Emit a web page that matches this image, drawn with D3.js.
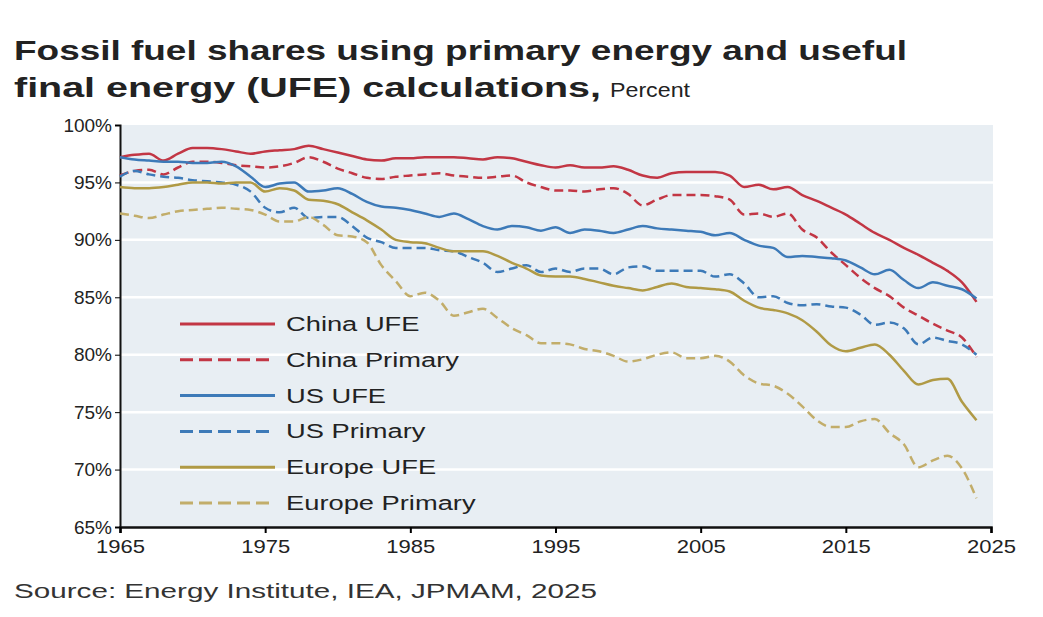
<!DOCTYPE html>
<html><head><meta charset="utf-8">
<script src="https://cdn.jsdelivr.net/npm/d3@7"></script>
<style>body{margin:0;background:#fff;}svg{font-family:"Liberation Sans",Arial,sans-serif;}</style>
</head><body><div id="chart"></div>
<script>
const firstYear = 1965;
const chinaUFE = [97.2,97.4,97.5,96.9,97.5,98.0,98.0,97.9,97.7,97.5,97.7,97.8,97.9,98.2,97.9,97.6,97.3,97.0,96.9,97.1,97.1,97.2,97.2,97.2,97.1,97.0,97.2,97.1,96.8,96.5,96.3,96.5,96.3,96.3,96.4,96.1,95.6,95.4,95.8,95.9,95.9,95.9,95.6,94.6,94.8,94.4,94.6,93.9,93.4,92.8,92.2,91.4,90.6,90.0,89.3,88.7,88.0,87.3,86.3,84.6];
const chinaPrimary = [95.6,96.0,96.1,95.7,96.3,96.8,96.8,96.7,96.5,96.4,96.3,96.4,96.7,97.2,96.8,96.2,95.8,95.4,95.3,95.5,95.6,95.7,95.8,95.6,95.5,95.4,95.5,95.6,95.0,94.6,94.3,94.3,94.2,94.4,94.5,94.0,93.0,93.5,93.9,93.9,93.9,93.8,93.5,92.2,92.3,92.0,92.3,90.9,90.2,88.9,87.8,86.7,85.8,85.1,84.1,83.4,82.7,82.1,81.5,79.8];
const usUFE = [97.2,97.0,96.9,96.8,96.8,96.7,96.7,96.8,96.4,95.5,94.6,94.9,95.0,94.2,94.3,94.5,94.0,93.3,92.9,92.8,92.6,92.3,92.0,92.3,91.8,91.2,90.9,91.2,91.1,90.8,91.1,90.6,90.9,90.8,90.6,90.9,91.2,91.0,90.9,90.8,90.7,90.4,90.6,90.0,89.5,89.3,88.5,88.6,88.5,88.4,88.2,87.6,87.0,87.4,86.5,85.8,86.3,86.0,85.7,84.9];
const usPrimary = [95.5,96.0,95.7,95.5,95.4,95.2,95.1,95.0,94.8,94.2,92.8,92.4,92.8,91.9,92.0,92.0,91.2,90.2,89.8,89.3,89.3,89.3,89.1,89.0,88.5,88.0,87.2,87.5,87.8,87.2,87.5,87.2,87.5,87.5,87.0,87.6,87.7,87.3,87.3,87.3,87.3,86.8,87.0,86.2,85.0,85.1,84.5,84.3,84.4,84.2,84.1,83.5,82.6,82.8,82.3,80.9,81.5,81.2,80.9,80.0];
const europeUFE = [94.6,94.5,94.5,94.6,94.8,95.0,95.0,94.9,95.0,95.0,94.2,94.5,94.3,93.5,93.4,93.1,92.4,91.7,90.9,90.0,89.8,89.7,89.3,89.0,89.0,89.0,88.6,88.0,87.5,86.9,86.8,86.8,86.6,86.3,86.0,85.8,85.6,85.9,86.2,85.9,85.8,85.7,85.5,84.7,84.1,83.9,83.6,83.0,82.0,80.8,80.3,80.6,80.9,80.0,78.6,77.4,77.8,77.9,75.9,74.3];
const europePrimary = [92.3,92.1,91.9,92.2,92.5,92.6,92.7,92.8,92.7,92.6,92.2,91.6,91.6,92.0,91.3,90.4,90.3,89.8,87.8,86.4,85.1,85.4,84.7,83.4,83.7,84.0,83.2,82.3,81.7,81.0,81.0,80.9,80.5,80.3,79.9,79.4,79.6,80.0,80.2,79.7,79.7,79.9,79.4,78.2,77.5,77.3,76.6,75.5,74.3,73.7,73.7,74.2,74.4,73.2,72.2,70.2,70.8,71.2,70.1,67.5];

const seriesNames = ["China UFE","China Primary","US UFE","US Primary","Europe UFE","Europe Primary"];
const seriesValues = [chinaUFE,chinaPrimary,usUFE,usPrimary,europeUFE,europePrimary];
const seriesColors = ["#c23644","#c23644","#3d7ab8","#3d7ab8","#b09a45","#c2ad6a"];
const seriesDashed = [false,true,false,true,false,true];
const yTicks = [65,70,75,80,85,90,95,100];
const xTicks = [1965,1975,1985,1995,2005,2015,2025];

const W = 1043, H = 617;
const svg = d3.select("#chart").append("svg").attr("width", W).attr("height", H);
const x = d3.scaleLinear().domain([1965, 2025]).range([120, 991]);
const y = d3.scaleLinear().domain([65, 100]).range([527, 125]);

// title is stretched wide in the original
svg.append("text").attr("x", 14).attr("y", 60).attr("font-size", 28).attr("font-weight", "bold").attr("fill", "#222")
  .attr("textLength", 893).attr("lengthAdjust", "spacingAndGlyphs")
  .text("Fossil fuel shares using primary energy and useful");
svg.append("text").attr("x", 14).attr("y", 97).attr("font-size", 28).attr("font-weight", "bold").attr("fill", "#222")
  .attr("textLength", 587).attr("lengthAdjust", "spacingAndGlyphs")
  .text("final energy (UFE) calculations,");
svg.append("text").attr("x", 610).attr("y", 97).attr("font-size", 21).attr("fill", "#222")
  .attr("textLength", 80).attr("lengthAdjust", "spacingAndGlyphs").text("Percent");

svg.append("rect").attr("x", x(1965)).attr("y", y(100)).attr("width", 993 - x(1965)).attr("height", y(65) - y(100)).attr("fill", "#e8eef3");

svg.append("g").selectAll("line").data(yTicks.slice(1, -1)).enter().append("line")
  .attr("x1", x(1965)).attr("x2", 993).attr("y1", d => y(d)).attr("y2", d => y(d))
  .attr("stroke", "#fff").attr("stroke-width", 2.5);

const yAxis = svg.append("g").attr("transform", `translate(${x(1965)},0)`)
  .call(d3.axisLeft(y).tickValues(yTicks).tickFormat(d => d + "%").tickSize(5));
yAxis.select(".domain").attr("stroke", "#111").attr("stroke-width", 2);
yAxis.selectAll("text").attr("font-size", 19).attr("fill", "#222").attr("font-family", "Liberation Sans, Arial");

const xAxis = svg.append("g").attr("transform", `translate(0,${y(65)})`)
  .call(d3.axisBottom(x).tickValues(xTicks).tickFormat(d3.format("d")).tickSize(6));
xAxis.select(".domain").attr("stroke", "#111").attr("stroke-width", 2.5);
xAxis.selectAll("line").attr("stroke-width", 2);
xAxis.selectAll("text").attr("font-size", 19).attr("fill", "#222").attr("dy", "0.9em")
  .attr("textLength", 49).attr("lengthAdjust", "spacingAndGlyphs").attr("font-family", "Liberation Sans, Arial");

const line = d3.line().x((d, i) => x(firstYear + i)).y(d => y(d)).curve(d3.curveMonotoneX);
seriesValues.forEach((vals, k) => {
  svg.append("path").datum(vals).attr("d", line).attr("fill", "none")
    .attr("stroke", seriesColors[k]).attr("stroke-width", 2.5)
    .attr("stroke-dasharray", seriesDashed[k] ? "9,5" : null);
});

const legend = svg.append("g").selectAll("g").data(seriesNames).enter().append("g")
  .attr("transform", (d, i) => `translate(180,${324 + i * 35.8})`);
legend.append("line").attr("x1", 0).attr("x2", 95).attr("stroke", (d, i) => seriesColors[i])
  .attr("stroke-width", 3).attr("stroke-dasharray", (d, i) => seriesDashed[i] ? "13,6" : null);
legend.append("text").attr("font-size", 21).attr("fill", "#222")
  .attr("transform", "translate(106,7) scale(1.3,1)").text(d => d);

svg.append("text").attr("x", 14).attr("y", 598).attr("font-size", 20).attr("fill", "#333")
  .attr("textLength", 583).attr("lengthAdjust", "spacingAndGlyphs")
  .text("Source: Energy Institute, IEA, JPMAM, 2025");
</script></body></html>
